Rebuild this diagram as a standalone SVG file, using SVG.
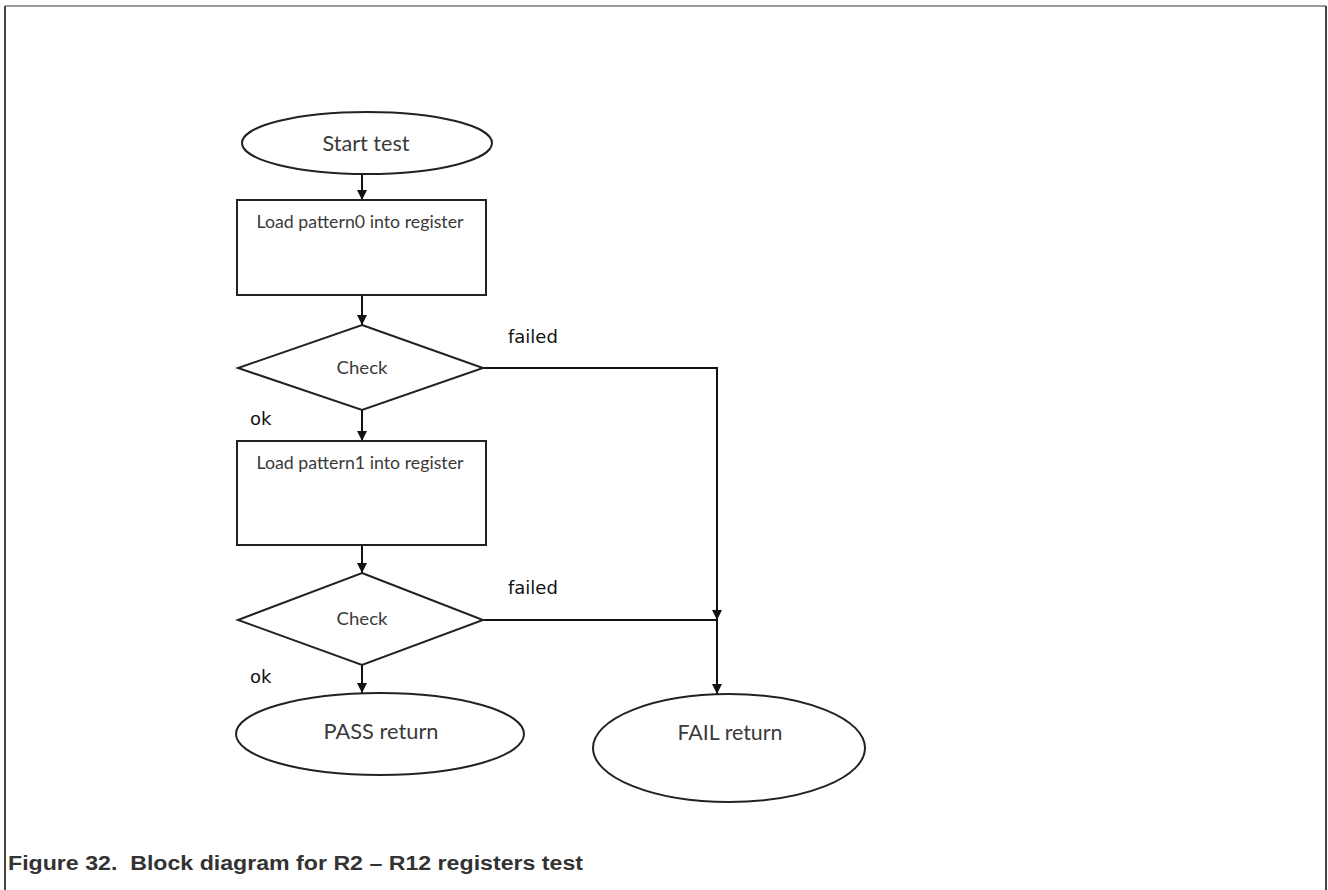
<svg xmlns="http://www.w3.org/2000/svg" width="1328" height="890" viewBox="0 0 1328 890">
<style>
.shape{fill:#fff;stroke:#222;stroke-width:2}
.conn{fill:none;stroke:#111;stroke-width:2}
.nt{font-family:Lato,"Liberation Sans",sans-serif;fill:#3a3a3a;text-anchor:middle}
.lbl{font-family:"DejaVu Sans",Verdana,sans-serif;fill:#111;font-size:18px}
.cap{font-family:"Liberation Sans",Arial,sans-serif;font-weight:bold;font-size:20px;fill:#333;white-space:pre}
</style>
<defs>
<marker id="ah" viewBox="0 0 10 10" refX="10" refY="5" markerWidth="10" markerHeight="10" markerUnits="userSpaceOnUse" orient="auto">
<path d="M0,0 L10,5 L0,10 z" fill="#111"/>
</marker>
</defs>
<g id="frame">
<line x1="5" y1="6" x2="1326" y2="6" stroke="#999" stroke-width="2"/>
<line x1="5" y1="6" x2="5" y2="890" stroke="#444" stroke-width="2"/>
<line x1="1326" y1="6" x2="1326" y2="890" stroke="#444" stroke-width="2"/>
</g>
<g id="connectors">
<line class="conn" x1="362" y1="175" x2="362" y2="200" marker-end="url(#ah)"/>
<line class="conn" x1="362" y1="295" x2="362" y2="325" marker-end="url(#ah)"/>
<line class="conn" x1="362" y1="410" x2="362" y2="441" marker-end="url(#ah)"/>
<line class="conn" x1="362" y1="545" x2="362" y2="573" marker-end="url(#ah)"/>
<line class="conn" x1="362" y1="665" x2="362" y2="693" marker-end="url(#ah)"/>
<polyline class="conn" points="483,368 717,368 717,620" marker-end="url(#ah)"/>
<line class="conn" x1="483" y1="620" x2="717" y2="620"/>
<line class="conn" x1="717" y1="620" x2="717" y2="694" marker-end="url(#ah)"/>
<text class="lbl" x="508" y="343">failed</text>
<text class="lbl" x="250" y="425">ok</text>
<text class="lbl" x="508" y="594">failed</text>
<text class="lbl" x="250" y="683">ok</text>
</g>
<g id="start">
<ellipse class="shape" cx="367" cy="143" rx="125" ry="31"/>
<text class="nt" x="366" y="151" font-size="22" textLength="87" lengthAdjust="spacingAndGlyphs">Start test</text>
</g>
<g id="load0">
<rect class="shape" x="237" y="200" width="249" height="95"/>
<text class="nt" x="360" y="228" font-size="16.5" textLength="207" lengthAdjust="spacingAndGlyphs">Load pattern0 into register</text>
</g>
<g id="check1">
<polygon class="shape" points="362,325 483,368 362,410 238,368"/>
<text class="nt" x="362" y="374" font-size="18" textLength="51" lengthAdjust="spacingAndGlyphs">Check</text>
</g>
<g id="load1">
<rect class="shape" x="237" y="441" width="249" height="104"/>
<text class="nt" x="360" y="469" font-size="16.5" textLength="207" lengthAdjust="spacingAndGlyphs">Load pattern1 into register</text>
</g>
<g id="check2">
<polygon class="shape" points="362,573 483,620 362,665 238,620"/>
<text class="nt" x="362" y="625" font-size="18" textLength="51" lengthAdjust="spacingAndGlyphs">Check</text>
</g>
<g id="pass">
<ellipse class="shape" cx="380" cy="734" rx="144" ry="41"/>
<text class="nt" x="381" y="739" font-size="22" textLength="115" lengthAdjust="spacingAndGlyphs">PASS return</text>
</g>
<g id="fail">
<ellipse class="shape" cx="729" cy="748" rx="136" ry="54"/>
<text class="nt" x="730" y="740" font-size="22" textLength="105" lengthAdjust="spacingAndGlyphs">FAIL return</text>
</g>
<text class="cap" x="8" y="870" textLength="575" lengthAdjust="spacingAndGlyphs">Figure 32.  Block diagram for R2 – R12 registers test</text>
</svg>
